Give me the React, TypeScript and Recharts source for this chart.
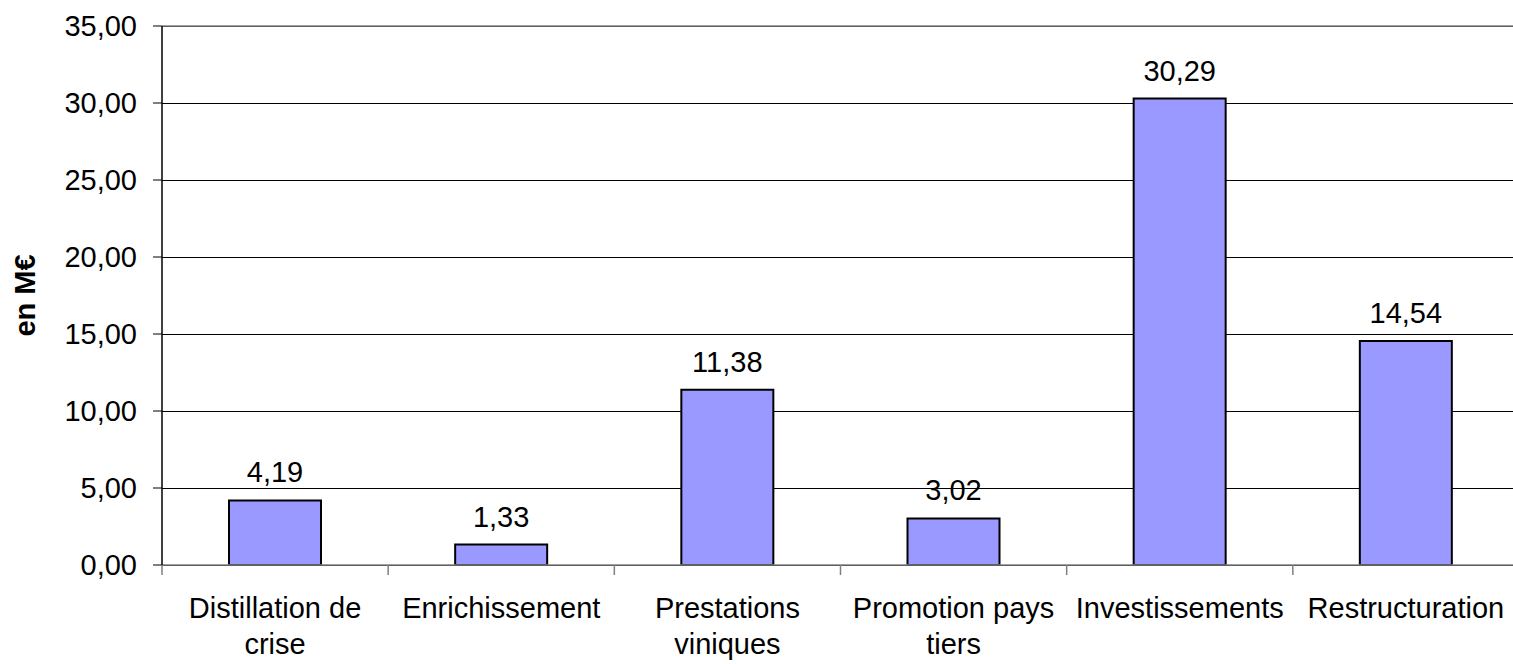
import React from "react";
import {
  BarChart,
  Bar,
  XAxis,
  YAxis,
  CartesianGrid,
  LabelList,
  ReferenceLine
} from "recharts";

// values in M€
const categories = [
  "Distillation de\ncrise",
  "Enrichissement",
  "Prestations\nviniques",
  "Promotion pays\ntiers",
  "Investissements",
  "Restructuration"
];
const amounts = [4.19, 1.33, 11.38, 3.02, 30.29, 14.54];
const yTicks = [0, 5, 10, 15, 20, 25, 30, 35];

const data = categories.map((name, i) => ({ name, value: amounts[i] }));

const FONT = "'Liberation Sans', Arial, sans-serif";
const CHART_W = 1519;
const AXIS_W = 162;
const BAND = (CHART_W - AXIS_W) / categories.length;

const fmt = (v: number) => v.toFixed(2).replace(".", ",");

function CategoryTick(props: any) {
  const { x, y, payload } = props;
  const half = payload?.offset || BAND / 2;
  const lines = String(payload.value).split("\n");
  return (
    <g>
      <line x1={x - half} x2={x - half} y1={y} y2={y + 10} stroke="#808080" strokeWidth={1.5} />
      <text x={x} y={y + 53} textAnchor="middle" fontFamily={FONT} fontSize={29} fill="#000">
        {lines.map((l, i) => (
          <tspan key={i} x={x} dy={i === 0 ? 0 : 36}>
            {l}
          </tspan>
        ))}
      </text>
    </g>
  );
}

function AxisTitle(props: any) {
  const vb = props.viewBox || {};
  const cx = 25;
  const cy = (vb.y ?? 26) + (vb.height ?? 539) / 2;
  return (
    <text
      x={cx}
      y={cy}
      transform={`rotate(-90 ${cx} ${cy})`}
      textAnchor="middle"
      dominantBaseline="central"
      fontFamily={FONT}
      fontWeight="bold"
      fontSize={29}
      fill="#000"
    >
      en M€
    </text>
  );
}

export default function App() {
  return (
    <div style={{ position: "absolute", left: 0, top: 0, width: 1513, height: 664, overflow: "hidden", background: "#fff" }}>
      <BarChart
        width={CHART_W}
        height={664}
        data={data}
        margin={{ top: 26, right: 0, left: 0, bottom: 0 }}
      >
        <CartesianGrid vertical={false} stroke="#000" strokeWidth={1} shapeRendering="crispEdges" />
        <ReferenceLine y={35} stroke="#808080" strokeWidth={1.5} />
        <XAxis
          dataKey="name"
          height={99}
          axisLine={{ stroke: "#808080", strokeWidth: 1.5 }}
          tickLine={false}
          tickSize={0}
          tickMargin={0}
          interval={0}
          tick={<CategoryTick />}
        />
        <YAxis
          width={AXIS_W}
          domain={[0, 35]}
          ticks={yTicks}
          interval={0}
          axisLine={{ stroke: "#000", strokeWidth: 1.5 }}
          tickLine={{ stroke: "#000", strokeWidth: 1 }}
          tickSize={9}
          tickMargin={16}
          tickFormatter={fmt}
          tick={{ fontFamily: FONT, fontSize: 29, fill: "#000" }}
          label={<AxisTitle />}
        />
        <Bar
          dataKey="value"
          fill="#9999FF"
          stroke="#000"
          strokeWidth={2}
          barSize={92}
          isAnimationActive={false}
        >
          <LabelList
            dataKey="value"
            position="top"
            offset={18}
            formatter={(v: any) => fmt(Number(v))}
            style={{ fontFamily: FONT, fontSize: 29, fill: "#000" }}
          />
        </Bar>
      </BarChart>
    </div>
  );
}
